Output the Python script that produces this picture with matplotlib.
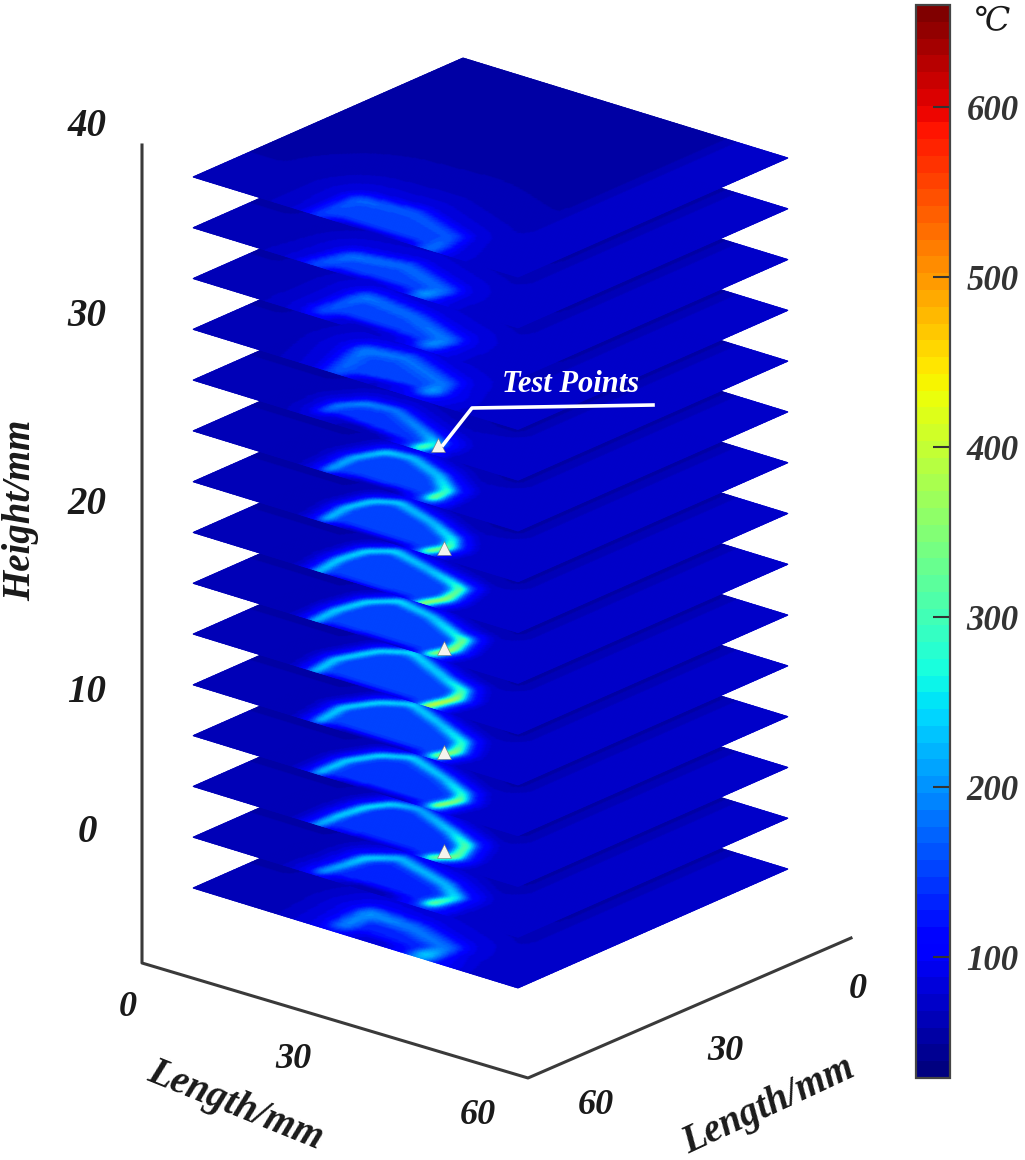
import numpy as np
import matplotlib
matplotlib.use("Agg")
import matplotlib.pyplot as plt
from matplotlib.cm import ScalarMappable
from matplotlib.colors import Normalize
from matplotlib.path import Path
from matplotlib.transforms import Affine2D

SERIF = ["Liberation Serif", "DejaVu Serif", "DejaVu Sans"]

# slice heights in mm, bottom to top
slice_z = [0, 2.7, 5.4, 8.1, 10.8, 13.5, 16.2, 18.9, 21.6, 24.3, 27.0, 29.7, 32.4, 35.1, 37.8]

# hot arc read from every slice: position in mm and temperature
arc_u = [
    [25.7, 25.4, 33.8, 42.3, 41.8],
    [22.5, 23.4, 23.9, 27.6, 39.2, 43.6, 42.3],
    [23.0, 23.1, 23.9, 26.0, 30.1, 39.5, 44.3, 46.1, 43.5],
    [22.8, 22.8, 25.1, 29.3, 38.2, 43.7, 45.0, 43.7],
    [22.6, 21.8, 24.6, 28.6, 37.2, 43.5, 45.2, 43.9],
    [22.4, 21.7, 24.4, 28.4, 38.6, 43.2, 44.6, 43.3],
    [22.5, 22.2, 23.4, 26.7, 34.3, 41.4, 43.5, 44.7, 43.4],
    [23.2, 22.5, 23.4, 26.6, 34.8, 40.6, 43.1, 44.0, 42.4],
    [23.7, 23.0, 24.3, 27.6, 36.1, 42.4, 44.1, 42.6],
    [24.3, 24.0, 26.2, 30.5, 37.9, 42.5, 42.6],
    [21.9, 22.1, 24.6, 29.5, 38.5, 42.1, 41.4],
    [26.1, 24.0, 30.4, 40.6, 41.1],
    [22.3, 23.4, 33.4, 42.7, 42.1],
    [22.6, 24.5, 32.8, 42.6, 41.6],
    [23.2, 23.9, 33.0, 42.7, 43.4],
]
arc_v = [
    [3.1, 8.7, 8.2, 5.4, 1.5],
    [1.8, 5.9, 9.7, 12.8, 9.1, 6.1, 2.4],
    [0.5, 4.8, 9.7, 13.1, 14.1, 10.2, 7.5, 3.1, 1.0],
    [0.7, 6.6, 11.3, 13.7, 10.3, 7.4, 5.1, 1.5],
    [1.0, 7.1, 11.9, 14.5, 10.8, 7.7, 4.1, 1.3],
    [0.5, 5.7, 12.1, 14.7, 9.9, 8.0, 4.9, 0.5],
    [0.4, 5.2, 10.4, 13.7, 12.0, 8.7, 8.0, 4.0, 1.1],
    [0.2, 5.5, 10.4, 13.1, 10.7, 8.9, 7.7, 3.4, 0.4],
    [1.1, 6.4, 10.8, 12.8, 9.9, 6.7, 4.0, 1.0],
    [1.1, 6.7, 11.5, 12.2, 9.2, 5.5, 2.1],
    [3.3, 6.0, 8.9, 9.7, 5.5, 3.4, 1.2],
    [1.2, 9.6, 10.8, 6.7, 3.8],
    [2.8, 10.4, 8.7, 4.9, 2.6],
    [1.0, 6.0, 7.9, 4.3, 1.8],
    [1.0, 8.3, 9.2, 5.7, 1.1],
]
arc_t = [
    [195, 205, 190, 185, 250],
    [225, 245, 270, 250, 250, 280, 380],
    [260, 285, 300, 290, 250, 290, 380, 400, 420],
    [285, 300, 305, 300, 290, 350, 440, 480],
    [285, 300, 305, 300, 290, 350, 450, 470],
    [290, 300, 305, 305, 300, 370, 490, 530],
    [285, 300, 305, 305, 290, 340, 420, 470, 470],
    [285, 300, 305, 300, 285, 330, 400, 460, 470],
    [275, 290, 295, 290, 280, 330, 410, 450],
    [240, 260, 280, 265, 275, 340, 420],
    [180, 205, 215, 200, 225, 280, 380],
    [170, 190, 185, 185, 215],
    [160, 185, 180, 190, 205],
    [160, 185, 180, 180, 215],
    [150, 175, 170, 165, 185],
]
arc_fill = [130, 135, 140, 145, 150, 150, 150, 150, 150, 150, 145, 155, 150, 150, 150]
arc_width = [3.0, 1.6, 1.2, 1.05, 1.05, 1.05, 1.05, 1.05, 1.05, 1.25, 1.6, 3.0, 3.0, 3.0, 3.0]

# white triangles: slice index and position in mm
point_slice = [2, 4, 6, 8, 10]
point_u = [43.3, 43.9, 43.2, 43.7, 42.7]
point_v = [3.6, 2.9, 3.8, 3.1, 3.1]

height_ticks = ["0", "10", "20", "30", "40"]
length_ticks = ["0", "30", "60"]
bar_ticks = [100, 200, 300, 400, 500, 600]
t_min, t_max = 29, 660

fig = plt.figure(figsize=(10.25, 11.6), dpi=100)
ax = fig.add_axes([0, 0, 1, 1])
ax.set_xlim(0, 1025)
ax.set_ylim(1160, 0)
ax.axis("off")

cmap = plt.get_cmap("jet", 64)
norm = Normalize(t_min, t_max)

grid = np.linspace(0, 60, 181)
uu, vv = np.meshgrid(grid, grid)
pts = np.column_stack([uu.ravel(), vv.ravel()])

kernel = np.exp(-0.5 * (np.arange(-8, 9) / 2.2) ** 2)
kernel = kernel / kernel.sum()


def blur(f):
    pad = np.pad(f, 8, mode="edge")
    pad = np.apply_along_axis(lambda r: np.convolve(r, kernel, mode="same"), 0, pad)
    pad = np.apply_along_axis(lambda r: np.convolve(r, kernel, mode="same"), 1, pad)
    return pad[8:-8, 8:-8]


def seg_dist(us, vs, ts):
    best = np.full(uu.shape, 1e9)
    temp = np.zeros(uu.shape)
    for k in range(len(us) - 1):
        du, dv = us[k + 1] - us[k], vs[k + 1] - vs[k]
        s = ((uu - us[k]) * du + (vv - vs[k]) * dv) / (du * du + dv * dv)
        s = np.clip(s, 0, 1)
        d = np.hypot(uu - us[k] - s * du, vv - vs[k] - s * dv)
        tk = ts[k] + s * (ts[k + 1] - ts[k])
        temp = np.where(d < best, tk, temp)
        best = np.minimum(d, best)
    return best, temp


def slice_field(i):
    us, vs, ts = arc_u[i], arc_v[i], arc_t[i]
    # background, a bit lighter on the right hand side
    f = 62 + 12 * np.clip((uu - 35) / 15, 0, 1)
    # dark band along the edge of the slice above
    dist = np.hypot(np.maximum(0, uu - 47.5), np.maximum(0, 15.1 - vv))
    f = f - (f - 44) * np.exp(-(dist / 2.2) ** 2)

    d, temp = seg_dist(us, vs, ts)
    w = arc_width[i]
    closed = Path(np.column_stack([us + us[:1], vs + vs[:1]]))
    inside = closed.contains_points(pts).reshape(uu.shape)
    fill = np.where(inside, arc_fill[i], 58.0)
    halo = 58 + (temp - 58) * 0.3 * np.exp(-(d / (3.0 * w)) ** 2)
    core = 58 + (temp - 58) * np.exp(-(d / w) ** 2)
    return blur(np.maximum.reduce([f, fill, halo, core]))


# painter's order, the upper slices cover the lower ones
for i, z in enumerate(slice_z):
    tip_y = 888 - 18.81 * z
    plane = Affine2D.from_values(325 / 60, 100 / 60, 270 / 60, -119 / 60, 193, tip_y)
    ax.pcolormesh(uu, vv, slice_field(i), cmap=cmap, norm=norm, shading="gouraud",
                  transform=plane + ax.transData, zorder=2 + i * 0.1)

for s, pu, pv in zip(point_slice, point_u, point_v):
    plane = Affine2D.from_values(325 / 60, 100 / 60, 270 / 60, -119 / 60, 193, 888 - 18.81 * slice_z[s])
    ax.scatter([pu], [pv], marker="^", s=100, c="#f4f4ee", edgecolors="#777777", linewidths=0.4,
               transform=plane + ax.transData, zorder=5)

# frame of the box
ax.plot([142, 142, 528, 851], [145, 963, 1078, 938], color="#3a3a3a", lw=2.2, zorder=1)

# leader of the test points
ax.plot([443, 472, 653], [445, 408, 405], color="white", lw=2.6, zorder=6)
ax.text(571, 384, "Test Points", color="white", fontsize=22, family=SERIF, weight="bold",
        style="italic", ha="center", va="center", zorder=6)

label_kw = dict(family=SERIF, weight="bold", style="italic", ha="center", va="center", color="#1a1a1a")
for lab, y in zip(height_ticks, [833, 692, 505, 316, 127]):
    ax.text(87, y, lab, fontsize=28, **label_kw)
ax.text(21, 510, "Height/mm", fontsize=28, rotation=90, **label_kw)

for lab, x, y in zip(length_ticks, [128, 293, 478], [1007, 1060, 1115]):
    ax.text(x, y, lab, fontsize=26, **label_kw)
for lab, x, y in zip(length_ticks, [858, 725, 596], [990, 1052, 1105]):
    ax.text(x, y, lab, fontsize=26, **label_kw)
ax.text(235, 1106, "Length/mm", fontsize=28, rotation=-22, **label_kw)
ax.text(769, 1106, "Length/mm", fontsize=28, rotation=25, **label_kw)

# colour bar
cax = fig.add_axes([916 / 1025, 82 / 1160, 34 / 1025, 1073 / 1160])
cb = fig.colorbar(ScalarMappable(norm=norm, cmap=cmap), cax=cax)
cb.set_ticks(bar_ticks)
cb.ax.tick_params(direction="in", length=12, width=1.5, color="#333333", right=True, pad=12)
cb.outline.set_edgecolor("#444444")
cb.outline.set_linewidth(1.6)
for t in cb.ax.get_yticklabels():
    t.set_family(SERIF)
    t.set_fontsize(25)
    t.set_weight("bold")
    t.set_style("italic")
    t.set_color("#333333")
ax.text(992, 22, "\u2103", fontsize=24, family=SERIF, style="italic", ha="center", va="center", color="#1a1a1a")

fig.savefig("out.png", dpi=100)
